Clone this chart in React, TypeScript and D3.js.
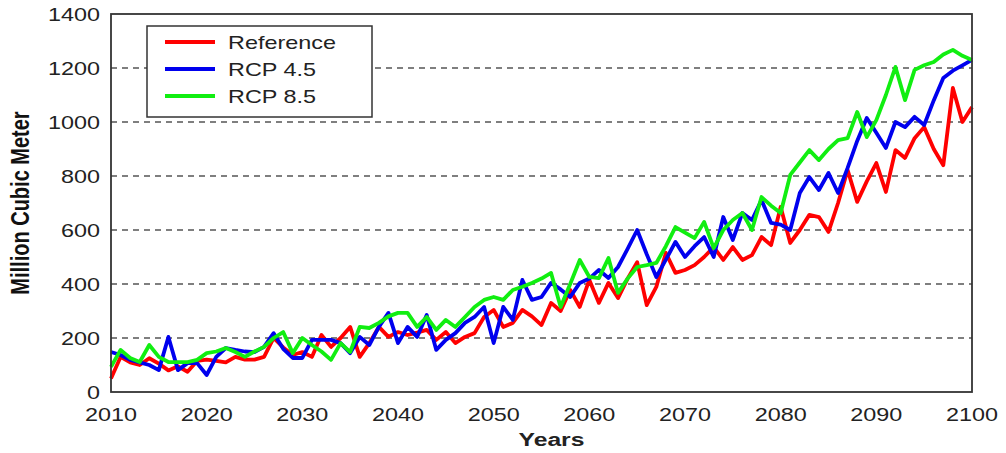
import React, { useRef, useEffect } from 'react'
import * as d3 from 'd3'

const years = d3.range(2010, 2101)

const referenceVals = [
  50, 130, 110, 100, 125, 105, 80, 95, 75, 115,
  120, 115, 110, 130, 120, 120, 130, 200, 165, 137,
  148, 130, 211, 167, 200, 241, 130, 181, 241, 204,
  222, 211, 220, 230, 193, 222, 181, 204, 218, 278,
  304, 241, 256, 304, 280, 248, 330, 300, 378, 315,
  415, 330, 404, 348, 420, 481, 322, 389, 515, 441,
  452, 470, 500, 537, 489, 537, 489, 507, 574, 544,
  685, 552, 600, 656, 648, 593, 700, 822, 704, 780,
  848, 741, 896, 867, 940, 981, 900, 840, 1126, 1000,
  1055
]

const rcp45Vals = [
  148, 137, 119, 110, 100, 81, 204, 81, 107, 107,
  63, 130, 163, 156, 150, 148, 167, 218, 160, 126,
  126, 193, 193, 193, 181, 144, 204, 174, 241, 293,
  181, 241, 204, 285, 156, 193, 218, 256, 278, 315,
  181, 315, 267, 415, 341, 352, 404, 380, 352, 404,
  420, 452, 422, 463, 530, 600, 510, 426, 490, 556,
  500, 540, 574, 500, 648, 563, 663, 637, 711, 626,
  620, 600, 737, 796, 748, 811, 737, 830, 930, 1015,
  960, 904, 1000, 981, 1019, 989, 1080, 1163, 1190, 1210,
  1230
]

const rcp85Vals = [
  93, 156, 126, 111, 174, 130, 111, 111, 111, 119,
  144, 150, 163, 148, 130, 150, 167, 200, 222, 144,
  200, 174, 150, 119, 181, 148, 241, 237, 256, 280,
  293, 293, 241, 278, 230, 267, 241, 278, 315, 341,
  352, 341, 378, 390, 404, 420, 441, 315, 400, 489,
  426, 422, 496, 367, 420, 463, 470, 478, 540, 611,
  590, 570, 630, 533, 600, 637, 663, 600, 722, 690,
  663, 804, 850, 896, 859, 900, 933, 940, 1037, 944,
  1007, 1100, 1204, 1081, 1193, 1210, 1222, 1250, 1267, 1245,
  1230
]

const seriesNames = ['Reference', 'RCP 4.5', 'RCP 8.5']
const seriesColors = ['#ff0000', '#0000ee', '#11ee11']
const xTicks = d3.range(2010, 2101, 10)
const yTicks = d3.range(0, 1401, 200)

const App: React.FC = () => {
  const svgRef = useRef<SVGSVGElement>(null)

  useEffect(() => {
    if (!svgRef.current) return
    const svg = d3.select(svgRef.current)
    svg.selectAll('*').remove()

    const margin = { top: 14, right: 34, bottom: 61, left: 111 }
    const width = 1006 - margin.left - margin.right
    const height = 453 - margin.top - margin.bottom
    const font = 'Liberation Sans, Arial, sans-serif'
    const stretch = 1.3 // the text in the picture is wider than it is tall

    const g = svg.append('g')
      .attr('transform', `translate(${margin.left},${margin.top})`)

    const xScale = d3.scaleLinear().domain([2010, 2100]).range([0, width])
    const yScale = d3.scaleLinear().domain([0, 1400]).range([height, 0])

    const addText = (parent: any, x: number, y: number, txt: string, anchor: string, size: number, bold = false) =>
      parent.append('text')
        .attr('transform', `translate(${x},${y}) scale(${stretch},1)`)
        .attr('text-anchor', anchor)
        .style('font-family', font)
        .style('font-size', `${size}px`)
        .style('font-weight', bold ? 'bold' : 'normal')
        .style('fill', '#222')
        .text(txt)

    // dashed horizontal grid
    g.selectAll('.grid')
      .data(yTicks.filter(t => t > 0 && t < 1400))
      .enter()
      .append('line')
      .attr('x1', 0)
      .attr('x2', width)
      .attr('y1', d => yScale(d))
      .attr('y2', d => yScale(d))
      .attr('stroke', '#555')
      .attr('stroke-width', 1.3)
      .attr('stroke-dasharray', '6,5')

    // lines
    const allSeries = [referenceVals, rcp45Vals, rcp85Vals]
    const line = d3.line<number>()
      .x((d, i) => xScale(years[i]))
      .y(d => yScale(d))

    allSeries.forEach((vals, i) => {
      g.append('path')
        .datum(vals)
        .attr('d', line)
        .attr('fill', 'none')
        .attr('stroke', seriesColors[i])
        .attr('stroke-width', 3.8)
        .attr('stroke-linejoin', 'round')
    })

    // frame
    g.append('rect')
      .attr('x', 0)
      .attr('y', 0)
      .attr('width', width)
      .attr('height', height)
      .attr('fill', 'none')
      .attr('stroke', '#333')
      .attr('stroke-width', 1.8)

    // tick labels
    xTicks.forEach(t => addText(g, xScale(t), height + 29, String(t), 'middle', 18))
    yTicks.forEach(t => addText(g, -11, yScale(t) + 7, String(t), 'end', 18))

    // axis titles
    addText(g, width / 2 + 10, height + 54, 'Years', 'middle', 19, true)

    g.append('text')
      .attr('transform', `translate(${-82},${height / 2}) scale(${stretch},1) rotate(-90)`)
      .attr('text-anchor', 'middle')
      .style('font-family', font)
      .style('font-size', '20px')
      .style('font-weight', 'bold')
      .style('fill', '#111')
      .text('Million Cubic Meter')

    // legend
    const legend = g.append('g').attr('transform', 'translate(36,12)')
    legend.append('rect')
      .attr('x', 0)
      .attr('y', 0)
      .attr('width', 225)
      .attr('height', 91)
      .attr('fill', '#fff')
      .attr('stroke', '#333')
      .attr('stroke-width', 1.5)

    seriesNames.forEach((name, i) => {
      const y = 16 + i * 27
      legend.append('line')
        .attr('x1', 18)
        .attr('x2', 68)
        .attr('y1', y)
        .attr('y2', y)
        .attr('stroke', seriesColors[i])
        .attr('stroke-width', 3.8)
      addText(legend, 81, y + 7, name, 'start', 18)
    })
  }, [])

  return (
    <svg
      ref={svgRef}
      width={1006}
      height={453}
      style={{ position: 'absolute', left: 0, top: 0, background: '#fff' }}
    ></svg>
  )
}

export default App
